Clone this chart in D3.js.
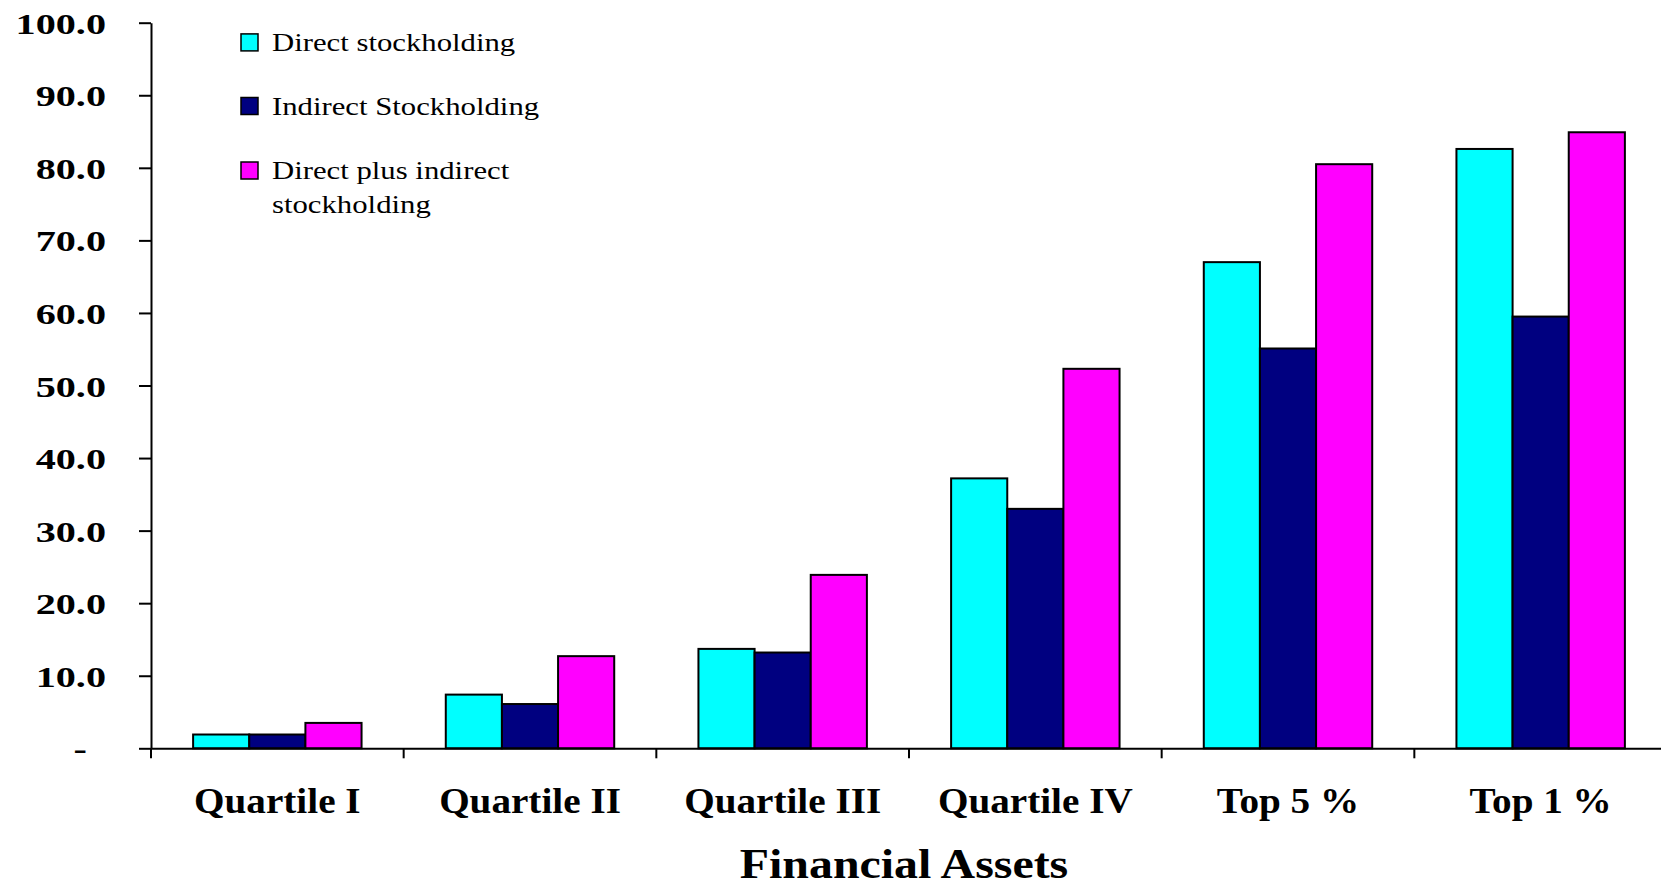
<!DOCTYPE html>
<html><head><meta charset="utf-8">
<script src="https://cdn.jsdelivr.net/npm/d3@7"></script>
<style>html,body{margin:0;padding:0;background:#fff;overflow:hidden}</style>
</head><body><svg id="c" width="1661" height="887"></svg>
<script>
const categories = ["Quartile I", "Quartile II", "Quartile III", "Quartile IV", "Top 5 %", "Top 1 %"];
const seriesNames = ["Direct stockholding", "Indirect Stockholding", "Direct plus indirect stockholding"];
const directValues = [1.9, 7.4, 13.7, 37.2, 67.0, 82.6];
const indirectValues = [1.9, 6.1, 13.2, 33.0, 55.1, 59.5];
const combinedValues = [3.5, 12.7, 23.9, 52.3, 80.5, 84.9];
const yTickValues = [0, 10, 20, 30, 40, 50, 60, 70, 80, 90, 100];
const yTickLabels = ["-", "10.0", "20.0", "30.0", "40.0", "50.0", "60.0", "70.0", "80.0", "90.0", "100.0"];
const seriesColors = ["#00FFFF", "#000080", "#FF00FF"];
const xTitle = "Financial Assets";

const seriesValues = [directValues, indirectValues, combinedValues];
const FONT = "'Liberation Serif','Times New Roman',serif";
const svg = d3.select("#c");
svg.append("rect").attr("width", 1661).attr("height", 887).attr("fill", "#fff");

const y = d3.scaleLinear().domain([0, 100]).range([748.3, 22.7]);
const x = d3.scaleBand().domain(categories).range([151, 1667]).padding(0);
const bw = x.bandwidth();
const xs = d3.scaleBand().domain(d3.range(seriesNames.length)).range([bw * 0.75 / 4.5, bw * 3.75 / 4.5]).padding(0);

// bars
const groups = svg.append("g").selectAll("g").data(categories).join("g")
  .attr("transform", d => `translate(${x(d)},0)`);
groups.selectAll("rect").data((c, i) => seriesValues.map((arr, s) => ({ s, v: arr[i] })))
  .join("rect")
  .attr("x", d => xs(d.s)).attr("width", xs.bandwidth())
  .attr("y", d => y(d.v)).attr("height", d => y(0) - y(d.v))
  .attr("fill", d => seriesColors[d.s]).attr("stroke", "#000").attr("stroke-width", 2);

// y axis
const yAxis = svg.append("g").attr("transform", "translate(151,0)")
  .call(d3.axisLeft(y).tickValues(yTickValues).tickSize(12).tickSizeOuter(0).tickFormat(""));
yAxis.selectAll("path,line").attr("stroke", "#000").attr("stroke-width", 2);
yAxis.selectAll("text").remove();
const yl = svg.append("g").selectAll("g").data(yTickValues).join("g")
  .attr("transform", (d, i) => `translate(${i === 0 ? 87 : 106},${y(d) + 11}) scale(1.34,1)`);
yl.append("text").attr("text-anchor", "end")
  .style("font-family", FONT).style("font-weight", "bold").style("font-size", "30px")
  .text((d, i) => yTickLabels[i]);

// x axis
const xAxisG = svg.append("g").attr("transform", `translate(0,${y(0)})`)
  .call(d3.axisBottom(x).tickSize(0).tickSizeOuter(0).tickFormat(""));
xAxisG.select("path").attr("stroke", "#000").attr("stroke-width", 2);
xAxisG.selectAll("line").remove();
xAxisG.selectAll("text").remove();
svg.append("g").selectAll("line").data(categories).join("line")
  .attr("x1", d => x(d)).attr("x2", d => x(d))
  .attr("y1", y(0)).attr("y2", y(0) + 10)
  .attr("stroke", "#000").attr("stroke-width", 2);

const xl = svg.append("g").selectAll("g").data(categories).join("g")
  .attr("transform", d => `translate(${x(d) + bw / 2},813) scale(1.12,1)`);
xl.append("text").attr("text-anchor", "middle")
  .style("font-family", FONT).style("font-weight", "bold").style("font-size", "35px")
  .text(d => d);

svg.append("g").attr("transform", `translate(904,878) scale(1.14,1)`)
  .append("text").attr("text-anchor", "middle")
  .style("font-family", FONT).style("font-weight", "bold").style("font-size", "42px")
  .text(xTitle);

// legend
const legendRows = [
  { lines: ["Direct stockholding"], cy: 42.4 },
  { lines: ["Indirect Stockholding"], cy: 106 },
  { lines: ["Direct plus indirect", "stockholding"], cy: 170.5 }
];
const lg = svg.append("g").selectAll("g").data(legendRows).join("g");
lg.append("rect").attr("x", 241).attr("y", d => d.cy - 8.5).attr("width", 17).attr("height", 17)
  .attr("fill", (d, i) => seriesColors[i]).attr("stroke", "#000").attr("stroke-width", 1.5);
lg.each(function (d) {
  const g = d3.select(this);
  d.lines.forEach((t, k) => {
    g.append("g").attr("transform", `translate(272,${d.cy + 8.5 + k * 34}) scale(1.21,1)`)
      .append("text").style("font-family", FONT).style("font-size", "25.4px").text(t);
  });
});
</script></body></html>
